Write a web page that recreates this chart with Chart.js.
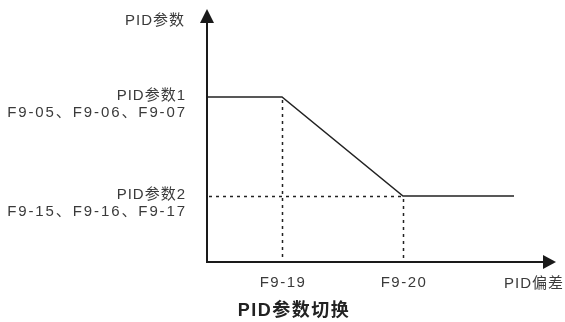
<!DOCTYPE html>
<html><head><meta charset="utf-8">
<script src="https://cdn.jsdelivr.net/npm/chart.js@4/dist/chart.umd.min.js"></script>
<style>html,body{margin:0;padding:0;background:#fff}#wrap{width:565px;height:322px}</style>
</head><body><div id="wrap"><canvas id="c" width="565" height="322"></canvas></div>
<script>
// Data (abstract units)
const xValues = [0, 7.5, 19.6, 30.7];
const yValues = [16.5, 16.5, 6.6, 6.6];
const xTickValues = [7.5, 19.6];
const xTickLabels = ['F9-19', 'F9-20'];
const yTickValues = [16.5, 6.6];
const yTickLabels = [['PID参数1', 'F9-05、F9-06、F9-07'], ['PID参数2', 'F9-15、F9-16、F9-17']];
const xAxisName = 'PID偏差';
const yAxisName = 'PID参数';
const chartTitle = 'PID参数切换';
const xMax = 34.9, yMax = 25.3;

const FONT = '"Liberation Sans", "Noto Sans CJK SC", sans-serif';
const TEXT = '#3a3a3a';

function yAt(x) {
  for (let i = 0; i < xValues.length - 1; i++) {
    if (x >= xValues[i] && x <= xValues[i + 1]) {
      const t = (x - xValues[i]) / (xValues[i + 1] - xValues[i]);
      return yValues[i] + t * (yValues[i + 1] - yValues[i]);
    }
  }
  return yValues[yValues.length - 1];
}

const decor = {
  id: 'decor',
  beforeDatasetsDraw(chart) {
    const ctx = chart.ctx, xs = chart.scales.x, ys = chart.scales.y;
    ctx.save();
    ctx.strokeStyle = '#222';
    ctx.lineWidth = 1.5;
    ctx.setLineDash([3, 4]);
    xTickValues.forEach(v => {
      const px = Math.round(xs.getPixelForValue(v)) + 0.5;
      ctx.beginPath();
      ctx.moveTo(px, ys.getPixelForValue(yAt(v)) + 3);
      ctx.lineTo(px, ys.getPixelForValue(0));
      ctx.stroke();
    });
    const py = Math.round(ys.getPixelForValue(yTickValues[1])) + 0.5;
    ctx.beginPath();
    ctx.moveTo(xs.getPixelForValue(0) + 2, py);
    ctx.lineTo(xs.getPixelForValue(xTickValues[1]), py);
    ctx.stroke();
    ctx.restore();
  },
  afterDraw(chart) {
    const ctx = chart.ctx, xs = chart.scales.x, ys = chart.scales.y;
    const x0 = xs.getPixelForValue(0), y0 = ys.getPixelForValue(0);
    const xE = xs.getPixelForValue(xMax), yE = ys.getPixelForValue(yMax);
    ctx.save();
    ctx.strokeStyle = '#1a1a1a';
    ctx.fillStyle = '#1a1a1a';
    ctx.lineWidth = 2;
    ctx.setLineDash([]);
    ctx.beginPath();
    ctx.moveTo(x0, y0); ctx.lineTo(x0, yE + 10);
    ctx.moveTo(x0 - 1, y0); ctx.lineTo(xE - 10, y0);
    ctx.stroke();
    ctx.beginPath();
    ctx.moveTo(x0, yE); ctx.lineTo(x0 - 7, yE + 14); ctx.lineTo(x0 + 7, yE + 14); ctx.closePath();
    ctx.fill();
    ctx.beginPath();
    ctx.moveTo(xE, y0); ctx.lineTo(xE - 13, y0 - 7); ctx.lineTo(xE - 13, y0 + 7); ctx.closePath();
    ctx.fill();

    ctx.fillStyle = TEXT;
    ctx.font = '15px ' + FONT;
    ctx.letterSpacing = '1px';
    ctx.textBaseline = 'middle';
    ctx.textAlign = 'right';
    ctx.fillText(yAxisName, 185, yE + 12);
    yTickValues.forEach((v, i) => {
      const py = ys.getPixelForValue(v);
      ctx.letterSpacing = '1px';
      ctx.fillText(yTickLabels[i][0], 186, py - 1);
      ctx.letterSpacing = '1.9px';
      ctx.fillText(yTickLabels[i][1], 187, py + 16);
    });
    ctx.letterSpacing = '1.5px';
    ctx.textAlign = 'center';
    xTickValues.forEach((v, i) => {
      ctx.fillText(xTickLabels[i], xs.getPixelForValue(v) + 1, y0 + 21);
    });
    ctx.letterSpacing = '1px';
    ctx.fillText(xAxisName, 534, y0 + 22);
    ctx.fillStyle = '#222';
    ctx.font = 'bold 18px ' + FONT;
    ctx.letterSpacing = '1.5px';
    ctx.fillText(chartTitle, 294, 311);
    ctx.restore();
  }
};

new Chart(document.getElementById('c'), {
  type: 'line',
  data: {
    datasets: [{
      data: xValues.map((x, i) => ({ x: x, y: yValues[i] })),
      borderColor: '#222',
      borderWidth: 1.5,
      pointRadius: 0,
      tension: 0,
      fill: false
    }]
  },
  options: {
    responsive: false,
    animation: false,
    layout: { padding: { left: 207, right: 9, top: 9, bottom: 60 } },
    scales: {
      x: { type: 'linear', min: 0, max: xMax, display: false },
      y: { type: 'linear', min: 0, max: yMax, display: false }
    },
    plugins: { legend: { display: false }, tooltip: { enabled: false }, title: { display: false } }
  },
  plugins: [decor]
});
</script></body></html>
